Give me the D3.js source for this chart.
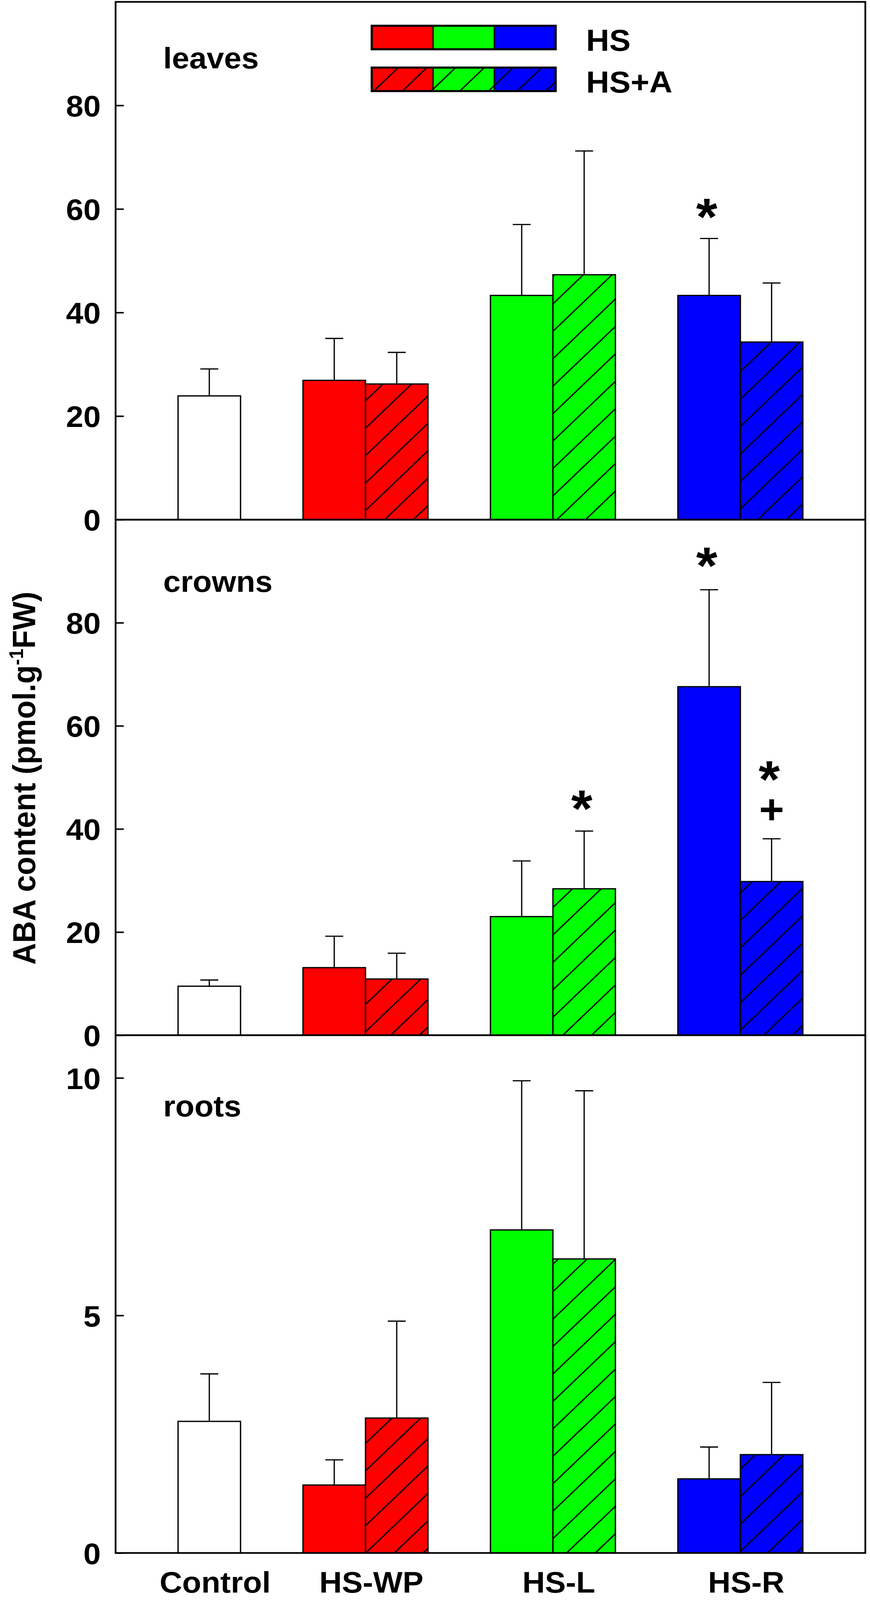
<!DOCTYPE html>
<html><head><meta charset="utf-8">
<script src="https://cdn.jsdelivr.net/npm/d3@7"></script>
<style>
html,body{margin:0;padding:0;background:#fff;overflow:hidden;}
svg{display:block;}
text{font-family:"Liberation Sans",Arial,Helvetica,sans-serif;font-weight:bold;fill:#000;}
</style></head>
<body>
<svg id="chart"></svg>
<script>
// ---------- data ----------
const categories = ["Control", "HS-WP", "HS-L", "HS-R"];
const treatments = ["HS", "HS+A"];
const panelNames = ["leaves", "crowns", "roots"];
// bar order: Control, HS-WP/HS, HS-WP/HS+A, HS-L/HS, HS-L/HS+A, HS-R/HS, HS-R/HS+A
const barCategory = [0, 1, 1, 2, 2, 3, 3];
const barTreatment = [-1, 0, 1, 0, 1, 0, 1];
const leavesMean = [23.9, 26.9, 26.2, 43.3, 47.3, 43.3, 34.3];
const leavesSE   = [5.2, 8.1, 6.1, 13.7, 23.9, 11.0, 11.4];
const crownsMean = [9.5, 13.1, 10.9, 23.0, 28.4, 67.6, 29.8];
const crownsSE   = [1.2, 6.1, 5.0, 10.8, 11.2, 18.8, 8.3];
const rootsMean  = [2.77, 1.43, 2.84, 6.80, 6.19, 1.56, 2.07];
const rootsSE    = [1.00, 0.53, 2.04, 3.14, 3.54, 0.67, 1.52];
const leavesTicks = [0, 20, 40, 60, 80];
const crownsTicks = [0, 20, 40, 60, 80];
const rootsTicks  = [0, 5, 10];
const yMax = [100, 100, 10.9];
const categoryColors = ["#ffffff", "#ff0000", "#00ff00", "#0000ff"];
// significance marks: panel, bar index, symbol, height (data units)
const markPanel = [0, 1, 1, 1, 1];
const markBar   = [5, 4, 5, 6, 6];
const markSym   = ["*", "*", "*", "*", "+"];
const markAt    = [60.2, 45.7, 92.8, 51.4, 43.8];
const yTitle = ["ABA content (pmol.g", "-1", "FW)"];

// ---------- layout ----------
const VW = 2228, VH = 4286;
const svg = d3.select("#chart")
  .attr("width", window.innerWidth || VW)
  .attr("height", window.innerHeight || VH)
  .attr("viewBox", `0 0 ${VW} ${VH}`)
  .attr("preserveAspectRatio", "none");
svg.append("rect").attr("width", VW).attr("height", VH).attr("fill", "#fff");
const L = 296, R = 2216;
const panelTop = [5, 1392, 2773];
const panelBot = [1392, 2773, 4160];
const means = [leavesMean, crownsMean, rootsMean];
const ses = [leavesSE, crownsSE, rootsSE];
const ticks = [leavesTicks, crownsTicks, rootsTicks];

const x = d3.scaleLinear().domain([0, 12]).range([L, R]);
const slotOf = i => barCategory[i] === 0 ? 1 : 3 * barCategory[i] + barTreatment[i];

// hatch pattern (global, user space)
const step = 73.5;
const defs = svg.append("defs");
const pat = defs.append("pattern").attr("id", "hatch")
  .attr("patternUnits", "userSpaceOnUse").attr("width", step).attr("height", step)
  .attr("x", 25).attr("y", 0);
pat.append("path")
  .attr("d", `M0,${step} L${step},0 M${-step/2},${step/2} L${step/2},${-step/2} M${step/2},${step*1.5} L${step*1.5},${step/2}`)
  .attr("stroke", "#000").attr("stroke-width", 3.4).attr("fill", "none");

const FONT = 80;

panelNames.forEach((name, p) => {
  const y = d3.scaleLinear().domain([0, yMax[p]]).range([panelBot[p], panelTop[p]]);
  const g = svg.append("g");

  // bars
  means[p].forEach((v, i) => {
    const s = slotOf(i);
    const x0 = x(s), w = x(s + 1) - x(s);
    const col = categoryColors[barCategory[i]];
    g.append("rect").attr("x", x0).attr("y", y(v)).attr("width", w).attr("height", y(0) - y(v))
      .attr("fill", col);
    if (barTreatment[i] === 1) {
      g.append("rect").attr("x", x0).attr("y", y(v)).attr("width", w).attr("height", y(0) - y(v))
        .attr("fill", "url(#hatch)");
    }
    g.append("rect").attr("x", x0).attr("y", y(v)).attr("width", w).attr("height", y(0) - y(v))
      .attr("fill", "none").attr("stroke", "#000").attr("stroke-width", 3.4);
    // error bar
    const cx = x0 + w / 2, top = y(v + ses[p][i]);
    g.append("line").attr("x1", cx).attr("x2", cx).attr("y1", y(v)).attr("y2", top)
      .attr("stroke", "#000").attr("stroke-width", 3.2);
    g.append("line").attr("x1", cx - 23).attr("x2", cx + 23).attr("y1", top).attr("y2", top)
      .attr("stroke", "#000").attr("stroke-width", 3.2);
  });

  // frame
  g.append("rect").attr("x", L).attr("y", panelTop[p]).attr("width", R - L)
    .attr("height", panelBot[p] - panelTop[p]).attr("fill", "none")
    .attr("stroke", "#000").attr("stroke-width", 4.5);

  // y axis
  const ax = g.append("g").attr("transform", `translate(${L},0)`)
    .call(d3.axisLeft(y).tickValues(ticks[p]).tickSizeInner(-21).tickSizeOuter(0).tickPadding(38).tickFormat(d3.format("d")));
  ax.select(".domain").remove();
  ax.selectAll(".tick line").attr("stroke", "#000").attr("stroke-width", 4);
  ax.selectAll(".tick text").attr("font-size", FONT).attr("font-family", null)
    .attr("dy", "0.36em").style("font-weight", "bold");

  // panel label
  g.append("text").attr("x", 418).attr("y", panelTop[p] + [178, 193, 218][p])
    .attr("font-size", FONT).text(name);
});

// significance marks
markSym.forEach((s, k) => {
  const p = markPanel[k];
  const y = d3.scaleLinear().domain([0, yMax[p]]).range([panelBot[p], panelTop[p]]);
  const i = markBar[k];
  const sl = slotOf(i);
  const cx = (x(sl) + x(sl + 1)) / 2 - (s === "*" ? 6 : 0);
  const t = svg.append("text").attr("x", cx).attr("text-anchor", "middle").text(s);
  if (s === "*") t.attr("font-size", 140).attr("y", y(markAt[k]) + 72);
  else t.attr("font-size", 110).attr("y", y(markAt[k]) + 38);
});

// category labels
categories.forEach((c, gi) => {
  const cx = gi === 0 ? x(1.5) : x(3 * gi + 1);
  svg.append("text").attr("x", cx + 15).attr("y", 4266).attr("text-anchor", "middle")
    .attr("font-size", FONT).text(c);
});

// y title
const yt = svg.append("text").attr("transform", `translate(90,${(panelTop[1] + panelBot[1]) / 2 + 2}) rotate(-90)`)
  .attr("text-anchor", "middle").attr("font-size", 81);
yt.append("tspan").text(yTitle[0]);
yt.append("tspan").attr("font-size", 50).attr("dy", -31).text(yTitle[1]);
yt.append("tspan").attr("dy", 31).text(yTitle[2]);

// legend
const legX = 952, segW = 157, legH = 63, legY = [69, 181];
const legendColors = categoryColors.slice(1);
treatments.forEach((tr, r) => {
  const lg = svg.append("g");
  legendColors.forEach((c, j) => {
    lg.append("rect").attr("x", legX + j * segW).attr("y", legY[r]).attr("width", segW).attr("height", legH).attr("fill", c);
    if (r === 1) lg.append("rect").attr("x", legX + j * segW).attr("y", legY[r]).attr("width", segW).attr("height", legH).attr("fill", "url(#hatch)");
    if (j > 0) lg.append("line").attr("x1", legX + j * segW).attr("x2", legX + j * segW)
      .attr("y1", legY[r]).attr("y2", legY[r] + legH).attr("stroke", "#000").attr("stroke-width", 3.4);
  });
  lg.append("rect").attr("x", legX).attr("y", legY[r]).attr("width", segW * 3).attr("height", legH)
    .attr("fill", "none").attr("stroke", "#000").attr("stroke-width", 5.5);
  lg.append("text").attr("x", legX + segW * 3 + 78).attr("y", legY[r] + 67)
    .attr("font-size", FONT + 2).text(tr);
});
</script>
</body></html>
